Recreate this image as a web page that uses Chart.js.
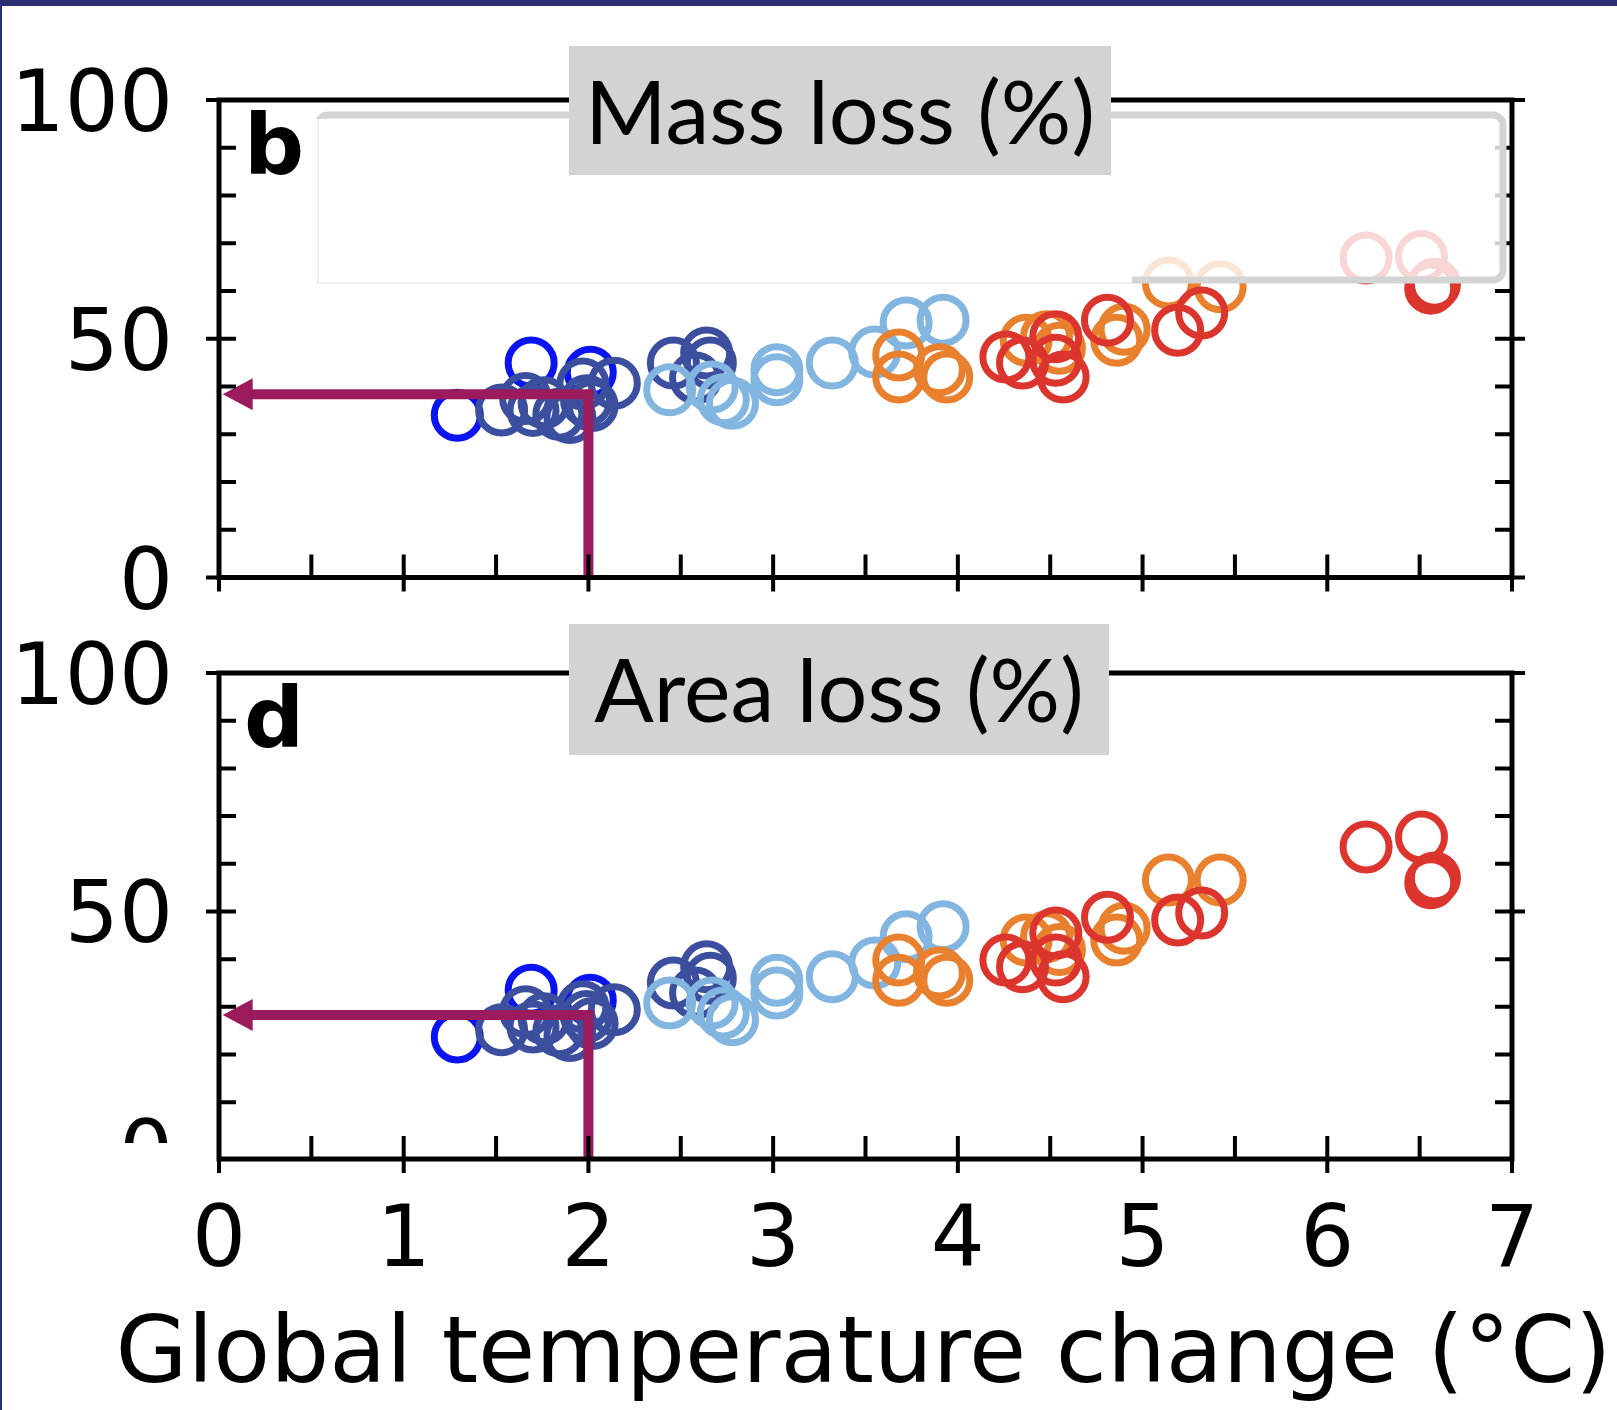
<!DOCTYPE html>
<html>
<head>
<meta charset="utf-8">
<title>Mass and area loss vs global temperature change</title>
<script src="https://cdn.jsdelivr.net/npm/chart.js@4.4.1/dist/chart.umd.min.js"></script>
<style>
  html, body { margin: 0; padding: 0; background: #fff; }
  #wrap { position: relative; width: 1617px; height: 1410px; overflow: hidden; background: #fff; }
  #wrap canvas { position: absolute; left: 0; top: 0; }
</style>
</head>
<body>
<div id="wrap">
  <canvas id="massChart" width="1617" height="1410"></canvas>
  <canvas id="areaChart" width="1617" height="1410"></canvas>
</div>
<script>
// ---- data ----
var panelTitles = ['Mass loss (%)', 'Area loss (%)'];
var panelLetters = ['b', 'd'];
var xTitle = 'Global temperature change (\u00B0C)';
var tempTicks = ['0', '1', '2', '3', '4', '5', '6', '7'];
var lossTicks = ['0', '50', '100'];

// one entry per model run : temperature (°C), mass loss (%), area loss (%)
var tempBlue   = [1.29, 1.69, 2.01];
var massBlue   = [34.0, 44.9, 43.0];
var areaBlue   = [23.7, 33.5, 31.4];

var tempNavy   = [1.53, 1.66, 1.70, 1.76, 1.84, 1.90, 1.97, 1.99, 2.02, 2.14, 2.46, 2.58, 2.64, 2.66];
var massNavy   = [35.1, 37.5, 35.0, 36.6, 34.2, 33.5, 40.5, 37.0, 36.0, 40.7, 44.9, 41.8, 47.0, 44.9];
var areaNavy   = [25.2, 29.0, 25.8, 27.5, 25.0, 24.0, 30.0, 28.0, 26.5, 29.4, 35.0, 32.9, 38.4, 36.0];

var tempSky    = [2.44, 2.67, 2.73, 2.78, 3.02, 3.02, 3.32, 3.55, 3.72, 3.92];
var massSky    = [39.3, 39.9, 37.2, 36.5, 43.5, 41.4, 44.9, 47.2, 53.3, 53.9];
var areaSky    = [30.8, 30.8, 28.7, 27.3, 35.6, 32.9, 36.3, 39.2, 44.7, 46.8];

var tempOrange = [3.68, 3.68, 3.90, 3.94, 4.37, 4.48, 4.55, 4.86, 4.90, 5.14, 5.42];
var massOrange = [46.6, 42.0, 43.5, 42.0, 49.7, 50.4, 48.0, 49.7, 52.0, 61.7, 60.9];
var areaOrange = [39.8, 35.6, 37.1, 35.6, 44.0, 44.7, 42.0, 44.0, 46.5, 56.6, 56.6];

var tempRed    = [4.26, 4.35, 4.53, 4.53, 4.57, 4.81, 5.19, 5.32, 6.21, 6.51, 6.56, 6.58];
var massRed    = [46.2, 44.9, 50.4, 45.5, 42.0, 53.9, 51.8, 55.4, 66.9, 67.2, 60.6, 61.4];
var areaRed    = [39.8, 38.4, 45.5, 39.8, 36.3, 48.8, 48.2, 49.7, 63.5, 65.6, 56.0, 57.0];

// 2 °C read-off arrows : [temperature, loss]
var arrowMass = [[2, 0], [2, 38.4], [0.16, 38.4]];
var arrowArea = [[2, -1.9], [2, 28.3], [0.16, 28.3]];
var arrowTipX = 0.02;

// ---- helpers ----
function pts(xs, ys) {
    var out = [];
    for (var i = 0; i < xs.length; i++) out.push({ x: xs[i], y: ys[i] });
    return out;
}

function ring(label, data, color) {
    return {
        label: label, data: data,
        pointStyle: 'circle', pointRadius: 23, pointHoverRadius: 23,
        borderWidth: 7, pointBorderWidth: 7,
        borderColor: color, pointBorderColor: color,
        backgroundColor: 'rgba(0,0,0,0)', pointBackgroundColor: 'rgba(0,0,0,0)'
    };
}

function roundRectPath(ctx, x1, y1, x2, y2, r) {
    ctx.beginPath();
    ctx.moveTo(x1 + r, y1);
    ctx.arcTo(x2, y1, x2, y2, r);
    ctx.arcTo(x2, y2, x1, y2, r);
    ctx.arcTo(x1, y2, x1, y1, r);
    ctx.arcTo(x1, y1, x2, y1, r);
    ctx.closePath();
}

// axes, ticks, labels, arrowhead, boxes (matplotlib-like frame)
var framePlugin = {
    id: 'frame',
    beforeDraw: function(chart, args, o) {
        if (!o.border) return;
        var ctx = chart.ctx;
        ctx.save();
        ctx.fillStyle = '#2d2f72';
        ctx.fillRect(0, 0, chart.width, 6);
        ctx.fillRect(0, 0, 2, chart.height);
        ctx.restore();
    },
    afterDatasetsDraw: function(chart, args, o) {
        var ctx = chart.ctx, a = chart.chartArea;
        var xs = chart.scales.x, ys = chart.scales.y;
        ctx.save();

        // arrowhead at the loss axis
        var tx = xs.getPixelForValue(arrowTipX);
        var ty = ys.getPixelForValue(o.arrow[1][1]);
        ctx.fillStyle = '#9b1b5c';
        ctx.beginPath();
        ctx.moveTo(tx, ty);
        ctx.lineTo(tx + 30, ty - 16);
        ctx.lineTo(tx + 30, ty + 16);
        ctx.closePath();
        ctx.fill();

        // spines
        ctx.strokeStyle = '#000';
        ctx.lineWidth = 5;
        ctx.strokeRect(a.left, a.top, a.right - a.left, a.bottom - a.top);

        // ticks
        ctx.lineWidth = 4;
        ctx.beginPath();
        for (var v = 0; v <= 100; v += 10) {
            var py = ys.getPixelForValue(v);
            if (py > o.clipY) continue;
            var major = v % 50 === 0;
            ctx.moveTo(a.left - (major ? 13 : 0), py);
            ctx.lineTo(a.left + 17, py);
            ctx.moveTo(a.right + (major ? 13 : 0), py);
            ctx.lineTo(a.right - 17, py);
        }
        for (var t = 0; t <= 7; t += 0.5) {
            var px = xs.getPixelForValue(t);
            var maj = t % 1 === 0;
            ctx.moveTo(px, a.bottom + (maj ? 14 : 0));
            ctx.lineTo(px, a.bottom - 23);
        }
        ctx.stroke();

        // y tick labels (clipped where the panel was cut)
        ctx.save();
        ctx.beginPath();
        ctx.rect(0, 0, chart.width, o.clipY);
        ctx.clip();
        ctx.fillStyle = '#000';
        ctx.font = '85px "DejaVu Sans"';
        ctx.textAlign = 'right';
        ctx.textBaseline = 'alphabetic';
        lossTicks.forEach(function(s) {
            ctx.fillText(s, a.left - 46, ys.getPixelForValue(Number(s)) + 31);
        });
        ctx.restore();

        // x tick labels + axis title
        if (o.xLabels) {
            ctx.fillStyle = '#000';
            ctx.font = '85px "DejaVu Sans"';
            ctx.textAlign = 'center';
            tempTicks.forEach(function(s) {
                ctx.fillText(s, xs.getPixelForValue(Number(s)), a.bottom + 107);
            });
            ctx.font = '93px "DejaVu Sans"';
            ctx.fillText(xTitle, (a.left + a.right) / 2 - 2, a.bottom + 223);
        }

        // legend frame left over on the top panel
        if (o.legend) {
            var L = o.legend;
            roundRectPath(ctx, L.left, L.top, L.right, L.bottom, 10);
            ctx.fillStyle = 'rgba(255,255,255,0.8)';
            ctx.fill();
            ctx.strokeStyle = '#d4d4d4';
            ctx.lineWidth = 7;
            ctx.stroke();
            ctx.fillStyle = '#fff';
            ctx.fillRect(L.left - 4, L.top + 4, L.open - L.left + 4, L.bottom - L.top + 8);
            ctx.strokeStyle = '#ececec';
            ctx.lineWidth = 1.5;
            ctx.beginPath();
            ctx.moveTo(L.left, L.top + 4);
            ctx.lineTo(L.left, L.bottom + 3);
            ctx.lineTo(L.open, L.bottom + 3);
            ctx.stroke();
        }

        // grey title box
        var B = o.box;
        ctx.fillStyle = '#d3d3d3';
        ctx.fillRect(B.left, B.top, B.right - B.left, B.bottom - B.top);
        ctx.fillStyle = '#000';
        ctx.font = '88px Lato';
        ctx.textAlign = 'center';
        ctx.fillText(o.title, (B.left + B.right) / 2, B.baseline);

        // panel letter
        ctx.font = 'bold 84px "DejaVu Sans"';
        ctx.textAlign = 'left';
        ctx.fillText(o.letter, a.left + 25, a.top + 74);

        ctx.restore();
    }
};

function makeChart(id, lossSeries, arrow, yMin, padding, frame) {
    var datasets = [{
        label: 'arrow',
        data: arrow.map(function(p) { return { x: p[0], y: p[1] }; }),
        showLine: true, pointRadius: 0, pointHoverRadius: 0,
        borderColor: '#9b1b5c', borderWidth: 10,
        borderJoinStyle: 'miter', borderCapStyle: 'butt', fill: false
    },
        ring('red', pts(tempRed, lossSeries[4]), '#dc352d'),
        ring('orange', pts(tempOrange, lossSeries[3]), '#e8802e'),
        ring('sky', pts(tempSky, lossSeries[2]), '#82b5e0'),
        ring('navy', pts(tempNavy, lossSeries[1]), '#3b4f9e'),
        ring('blue', pts(tempBlue, lossSeries[0]), '#0a14f0')
    ];
    frame.arrow = arrow;
    return new Chart(document.getElementById(id), {
        type: 'scatter',
        data: { datasets: datasets },
        options: {
            responsive: false,
            animation: false,
            devicePixelRatio: 1,
            events: [],
            layout: { padding: padding },
            scales: {
                x: { type: 'linear', min: 0, max: 7, display: false },
                y: { type: 'linear', min: yMin, max: 100, display: false }
            },
            plugins: {
                legend: { display: false },
                tooltip: { enabled: false },
                frame: frame
            }
        },
        plugins: [framePlugin]
    });
}

var massChart = makeChart('massChart',
    [massBlue, massNavy, massSky, massOrange, massRed], arrowMass, 0,
    { left: 219, top: 100, right: 105, bottom: 832.5 },
    {
        border: true, clipY: 10000, xLabels: false,
        title: panelTitles[0], letter: panelLetters[0],
        box: { left: 569, top: 46, right: 1111, bottom: 175, baseline: 144 },
        legend: { left: 318, top: 115, right: 1503, bottom: 280, open: 1132 }
    });

var areaChart = makeChart('areaChart',
    [areaBlue, areaNavy, areaSky, areaOrange, areaRed], arrowArea, -1.9,
    { left: 219, top: 673, right: 105, bottom: 251 },
    {
        border: false, clipY: 1143, xLabels: true,
        title: panelTitles[1], letter: panelLetters[1],
        box: { left: 569, top: 624, right: 1109, bottom: 755, baseline: 722 },
        legend: null
    });
</script>
</body>
</html>
